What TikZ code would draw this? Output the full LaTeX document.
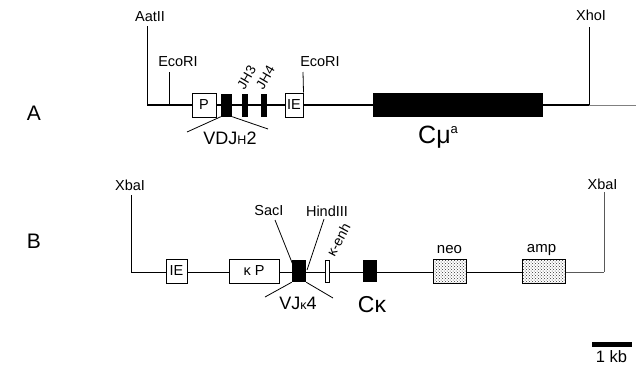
\documentclass[tikz,border=0pt]{standalone}
\usepackage{fontspec}
\setmainfont{Liberation Sans}
\usetikzlibrary{patterns}
\begin{document}
\begin{tikzpicture}[x=1pt,y=-1pt,
  lab/.style={font=\fontsize{14.5}{16}\selectfont, inner sep=0pt},
  biglab/.style={font=\fontsize{21}{22}\selectfont, inner sep=0pt},
  thinline/.style={line width=0.8pt},
  blk/.style={fill=black, draw=none, inner sep=0pt},
  gbox/.style={draw, line width=1pt, fill=white, inner sep=0pt, font=\fontsize{14.5}{16}\selectfont},
  dotbox/.style={draw, line width=1pt, inner sep=0pt, preaction={fill=white}, pattern=crosshatch dots, pattern color=black!80}
]
\useasboundingbox (0,0) rectangle (636,373);

% ---------------- Row A ----------------
\node[biglab] (labA) at (34,113) {A};
\coordinate (aL) at (147,105);
\coordinate (aX) at (589,105);
\coordinate (aR) at (636,105);
\draw[line width=1.8pt] (aL) -- (aX);
\draw[black!50, line width=0.8pt] (aX) -- (aR);

\node[lab] (aat) at (150,17) {AatII};
\coordinate (aatTop) at (147,26);
\draw[thinline] (aatTop) -- (aL);

\node[lab] (eco1) at (178,62) {EcoRI};
\coordinate (eco1t) at (169,72);
\coordinate (eco1b) at (169,105);
\draw[thinline] (eco1t) -- (eco1b);

\node[gbox, minimum width=24pt, minimum height=24pt] (P) at (204,105) {P};
\node[blk, minimum width=11pt, minimum height=23pt] (vdj) at (226.5,105) {};
\node[blk, minimum width=6pt, minimum height=23pt] (jh3) at (245,105) {};
\node[blk, minimum width=6pt, minimum height=23pt] (jh4) at (264,105) {};
\node[gbox, minimum width=18pt, minimum height=24pt] (IEa) at (294,105) {IE};

\node[font=\fontsize{13.5}{14}\selectfont, inner sep=0pt, rotate=60] (jh3l) at (246.5,77.5) {JH3};
\node[font=\fontsize{13.5}{14}\selectfont, inner sep=0pt, rotate=60] (jh4l) at (265.5,77.5) {JH4};

\node[lab] (eco2) at (320,62) {EcoRI};
\coordinate (eco2t) at (303,72);
\draw[thinline] (eco2t) -- (IEa.north east);

\node[blk, minimum width=170pt, minimum height=24pt] (cmu) at (458,105) {};

\node[lab] (xho) at (591,15) {XhoI};
\coordinate (xhoTop) at (589,27);
\draw[thinline] (xhoTop) -- (aX);

\coordinate (vdjL) at (187,132);
\coordinate (vdjR) at (268,129);
\draw[thinline] (vdj.south west) -- (vdjL);
\draw[thinline] (vdj.south east) -- (vdjR);
\node[font=\fontsize{18}{19}\selectfont, inner sep=0pt] (vdjl) at (230,138) {VDJ{\fontsize{12.5}{12}\selectfont H}2};

\node[font=\fontsize{25}{27}\selectfont, inner sep=0pt, anchor=base west] (cmul) at (418,143) {Cμ\raisebox{0.75ex}{\fontsize{13}{13}\selectfont a}};

% ---------------- Row B ----------------
\node[biglab] (labB) at (34,241) {B};
\coordinate (bL) at (131,272);
\coordinate (bR) at (604,272);
\draw[thinline] (bL) -- (543,272);
\draw[thinline, black!65] (543,272) -- (bR);

\node[lab] (xb1) at (130,185) {XbaI};
\coordinate (xb1t) at (131,195);
\draw[thinline] (xb1t) -- (bL);

\node[lab] (xb2) at (602.5,184) {XbaI};
\coordinate (xb2t) at (604,192);
\draw[thinline, black!65] (xb2t) -- (bR);

\node[gbox, minimum width=21pt, minimum height=24pt] (IEb) at (176.5,271) {IE};
\node[gbox, minimum width=50pt, minimum height=24pt] (kP) at (254,271) {κ P};
\node[blk, minimum width=14pt, minimum height=22pt] (vj) at (299,271) {};
\node[draw, line width=0.8pt, fill=white, inner sep=0pt, minimum width=4pt, minimum height=22pt] (kenh) at (327,271) {};
\node[blk, minimum width=14pt, minimum height=22pt] (ck) at (370,271) {};
\node[dotbox, minimum width=33pt, minimum height=24pt] (neo) at (449.5,271) {};
\node[dotbox, minimum width=43pt, minimum height=24pt] (amp) at (543.5,271) {};

\node[font=\fontsize{15}{16}\selectfont, inner sep=0pt] (neol) at (449.5,250) {neo};
\node[font=\fontsize{15}{16}\selectfont, inner sep=0pt] (ampl) at (541.5,250) {amp};

\node[lab] (sac) at (269,211) {SacI};
\coordinate (sact) at (275,220);
\coordinate (sacb) at (293,265);
\draw[thinline] (sact) -- (sacb);

\node[lab] (hind) at (327,211) {HindIII};
\coordinate (hindt) at (324,219);
\coordinate (hindb) at (307,270);
\draw[thinline] (hindt) -- (hindb);

\node[font=\fontsize{14}{15}\selectfont, inner sep=0pt, rotate=62] (kenhl) at (338.5,240) {κ-enh};

\coordinate (vjL) at (265,297);
\coordinate (vjR) at (333,298);
\draw[thinline] (vj.south west) -- (vjL);
\draw[thinline] (vj.south east) -- (vjR);
\node[font=\fontsize{18}{19}\selectfont, inner sep=0pt] (vjl) at (298,303) {VJ{\fontsize{12.5}{12}\selectfont κ}4};

\node[font=\fontsize{23}{24}\selectfont, inner sep=0pt] (ckl) at (372,305) {Cκ};

% ---------------- scale bar ----------------
\node[blk, minimum width=40pt, minimum height=5pt] (bar) at (612,344.5) {};
\node[font=\fontsize{16.5}{17}\selectfont, inner sep=0pt] (kb) at (611.5,357) {1 kb};
\end{tikzpicture}
\end{document}
